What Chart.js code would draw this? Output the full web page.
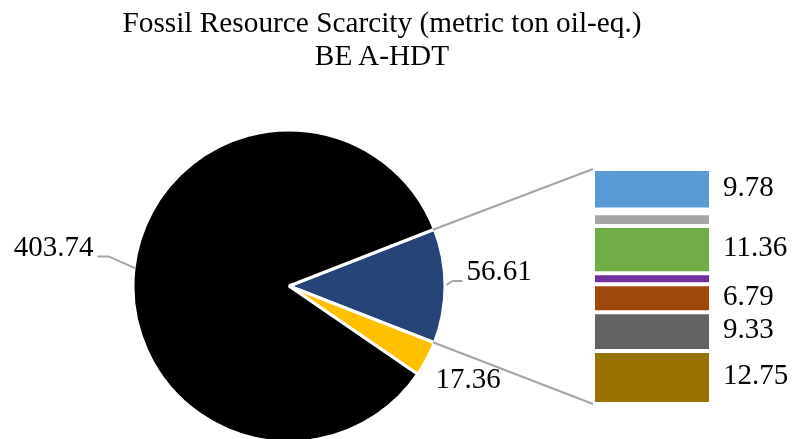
<!DOCTYPE html>
<html>
<head>
<meta charset="utf-8">
<script src="https://cdn.jsdelivr.net/npm/chart.js@4.4.0/dist/chart.umd.min.js"></script>
<style>
  html, body { margin: 0; padding: 0; background: #fff; }
  #wrap { position: relative; width: 797px; height: 439px; overflow: hidden; }
  #wrap canvas { position: absolute; left: 0; top: 0; }
  #title {
    position: absolute; left: 0; top: 6px; width: 764px;
    text-align: center; color: #000;
    font: 29.3px/33px "Liberation Serif", "Times New Roman", serif;
  }
</style>
</head>
<body>
<div id="wrap">
  <canvas id="pieChart" width="797" height="439"></canvas>
  <canvas id="barChart" width="797" height="439"></canvas>
  <div id="title">Fossil Resource Scarcity (metric ton oil-eq.)<br>BE A-HDT</div>
</div>
<script>
// pie slices (first one is the "other" slice that gets split into the bar)
const pieLabels = ['Other', 'Slice 2', 'Slice 1'];
const pieValues = [56.61, 17.36, 403.74];
const pieColors = ['#264478', '#FFC000', '#000000'];

// bar of pie, top to bottom
const barLabels = ['Item 1', 'Item 2', 'Item 3', 'Item 4', 'Item 5', 'Item 6', 'Item 7', 'Item 8'];
const barValues = [9.78, 0.89, 3.06, 11.36, 2.65, 6.79, 9.33, 12.75];
const barColors = ['#5B9BD5', '#ED7D31', '#A5A5A5', '#70AD47', '#7030A0', '#9E480E', '#636363', '#997300'];

const labelFont = '29px "Liberation Serif", "Times New Roman", serif';
const lineColor = '#A5A5A5';

const fmt = v => v.toFixed(2);

// ---- bar (right side) ----
const barTotal = pieValues[0];

const barLabelPlugin = {
  id: 'barLabels',
  afterDatasetsDraw(chart) {
    const ctx = chart.ctx;
    ctx.save();
    ctx.font = labelFont;
    ctx.fillStyle = '#000';
    ctx.textAlign = 'left';
    ctx.textBaseline = 'middle';
    barValues.forEach((v, i) => {
      if (v < 5) return; // small pieces have no label
      const el = chart.getDatasetMeta(i).data[0];
      ctx.fillText(fmt(v), el.x + el.width / 2 + 12, (el.y + el.base) / 2 - 1);
    });
    ctx.restore();
  }
};

const barChart = new Chart(document.getElementById('barChart'), {
  type: 'bar',
  data: {
    labels: ['Other'],
    datasets: barValues.map((v, i) => ({
      label: barLabels[i],
      data: [v],
      backgroundColor: barColors[i],
      borderColor: '#ffffff',
      borderWidth: 2,
      borderSkipped: false,
      inflateAmount: 0,
      barPercentage: 1,
      categoryPercentage: 1
    }))
  },
  options: {
    responsive: false,
    animation: false,
    layout: { padding: { left: 593, right: 86, top: 169, bottom: 35 } },
    plugins: { legend: { display: false }, tooltip: { enabled: false } },
    scales: {
      x: { display: false, stacked: true },
      y: { display: false, stacked: true, reverse: true, min: 0, max: barTotal }
    }
  },
  plugins: [barLabelPlugin]
});

// ---- pie (left side) ----
const pieTotal = pieValues.reduce((a, b) => a + b, 0);
const pieRadius = 156;

// where each slice label sits, relative to the slice edge point
const pieLabelLayout = [
  { dx: 23, dy: -14, align: 'left', leader: [[3, -1], [9, -5], [19, -5]] },
  { dx: 10, dy: 22, align: 'left', leader: null },
  { dx: -42, dy: -20, align: 'right', leader: [[0, 0], [-27, -12], [-38, -12]] }
];

const pieExtrasPlugin = {
  id: 'pieExtras',
  afterDatasetsDraw(chart) {
    const ctx = chart.ctx;
    const arcs = chart.getDatasetMeta(0).data;
    const R = pieRadius - 1.5;
    ctx.save();
    ctx.strokeStyle = lineColor;
    ctx.lineWidth = 2;

    // connector lines from the split slice to the bar
    const other = arcs[0];
    const first = barChart.getDatasetMeta(0).data[0];
    const barLeft = first.x - first.width / 2;
    const yTop = barChart.scales.y.getPixelForValue(0);
    const yBot = barChart.scales.y.getPixelForValue(barTotal);
    [[other.startAngle, yTop], [other.endAngle, yBot]].forEach(([a, yb]) => {
      ctx.beginPath();
      ctx.moveTo(other.x + Math.cos(a) * R, other.y + Math.sin(a) * R);
      ctx.lineTo(barLeft, yb);
      ctx.stroke();
    });

    // slice labels
    ctx.font = labelFont;
    ctx.fillStyle = '#000';
    ctx.textBaseline = 'middle';
    arcs.forEach((arc, i) => {
      const mid = (arc.startAngle + arc.endAngle) / 2;
      const ex = arc.x + Math.cos(mid) * R;
      const ey = arc.y + Math.sin(mid) * R;
      const lay = pieLabelLayout[i];
      if (lay.leader) {
        ctx.beginPath();
        lay.leader.forEach(([dx, dy], k) => {
          if (k === 0) ctx.moveTo(ex + dx, ey + dy);
          else ctx.lineTo(ex + dx, ey + dy);
        });
        ctx.stroke();
      }
      ctx.textAlign = lay.align;
      ctx.fillText(fmt(pieValues[i]), ex + lay.dx, ey + lay.dy);
    });
    ctx.restore();
  }
};

const pieChart = new Chart(document.getElementById('pieChart'), {
  type: 'pie',
  data: {
    labels: pieLabels,
    datasets: [{
      data: pieValues,
      backgroundColor: pieColors,
      borderColor: '#ffffff',
      borderWidth: 3
    }]
  },
  options: {
    responsive: false,
    animation: false,
    radius: pieRadius,
    rotation: 90 - pieValues[0] / pieTotal * 180,
    layout: { padding: { left: 0, right: 219, top: 133, bottom: 0 } },
    plugins: { legend: { display: false }, tooltip: { enabled: false } }
  },
  plugins: [pieExtrasPlugin]
});
</script>
</body>
</html>
